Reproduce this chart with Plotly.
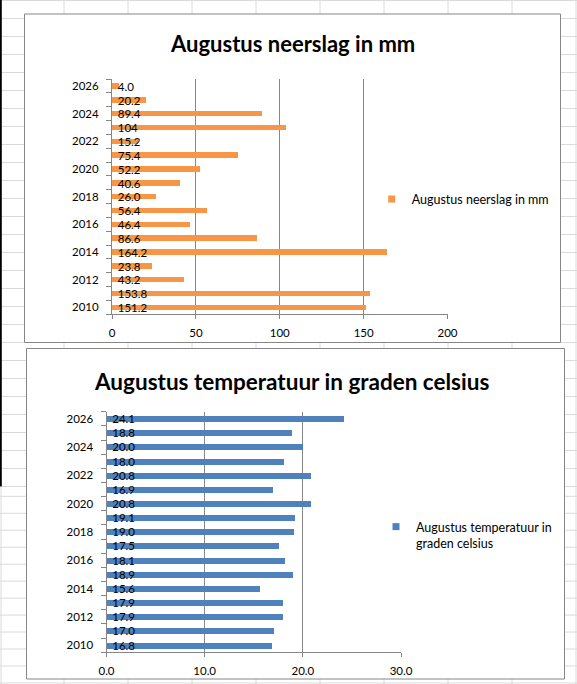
import plotly.graph_objects as go

W, H = 577, 684

# ---------------- data ----------------
years = list(range(2010, 2027))
rain_mm = [151.2, 153.8, 43.2, 23.8, 164.2, 86.6, 46.4, 56.4, 26.0,
           40.6, 52.2, 75.4, 15.2, 104, 89.4, 20.2, 4.0]
rain_labels = ["151.2", "153.8", "43.2", "23.8", "164.2", "86.6", "46.4", "56.4", "26.0",
               "40.6", "52.2", "75.4", "15.2", "104", "89.4", "20.2", "4.0"]
temp_c = [16.8, 17.0, 17.9, 17.9, 15.6, 18.9, 18.1, 17.5, 19.0,
          19.1, 20.8, 16.9, 20.8, 18.0, 20.0, 18.8, 24.1]
temp_labels = ["16.8", "17.0", "17.9", "17.9", "15.6", "18.9", "18.1", "17.5", "19.0",
               "19.1", "20.8", "16.9", "20.8", "18.0", "20.0", "18.8", "24.1"]
year_ticks = [2010, 2012, 2014, 2016, 2018, 2020, 2022, 2024, 2026]
rain_ticks = [0, 50, 100, 150, 200]
temp_ticks = [0, 10, 20, 30]

title_rain = "Augustus neerslag in mm"
title_temp = "Augustus temperatuur in graden celsius"
legend_rain = "Augustus neerslag in mm"
legend_temp = "Augustus temperatuur in<br>graden celsius"

# ---------------- styling ----------------
ORANGE = "#F79646"
BLUE = "#4F81BD"
AXIS = "#868686"
SHEET = "#DADADA"
FONT = "Lato"


def px(x):
    return x / W


def py(y):
    return 1 - y / H


fig = go.Figure()

# bars
fig.add_trace(go.Bar(
    orientation="h", x=rain_mm, y=years, width=0.4,
    marker=dict(color=ORANGE, line=dict(width=0)),
    text=rain_labels, texttemplate="\u2002%{text}",
    textposition="inside", insidetextanchor="start",
    constraintext="none", textangle=0, cliponaxis=False,
    insidetextfont=dict(family=FONT, size=11.5, color="#000000"),
    showlegend=False, hoverinfo="x+y", xaxis="x", yaxis="y",
))
fig.add_trace(go.Bar(
    orientation="h", x=temp_c, y=years, width=0.42,
    marker=dict(color=BLUE, line=dict(width=0)),
    text=temp_labels, texttemplate="\u2002%{text}",
    textposition="inside", insidetextanchor="start",
    constraintext="none", textangle=0, cliponaxis=False,
    insidetextfont=dict(family=FONT, size=11.5, color="#000000"),
    showlegend=False, hoverinfo="x+y", xaxis="x2", yaxis="y2",
))

# legend entries (small square keys like the spreadsheet legend)
fig.add_trace(go.Scatter(
    x=[None], y=[None], mode="markers", name=legend_rain,
    marker=dict(symbol="square", size=7, color=ORANGE),
    xaxis="x", yaxis="y", legend="legend",
))
fig.add_trace(go.Scatter(
    x=[None], y=[None], mode="markers", name=legend_temp,
    marker=dict(symbol="square", size=7, color=BLUE),
    xaxis="x2", yaxis="y2", legend="legend2",
))

# ---------------- spreadsheet background ----------------
shapes = []
for k in range(1, 10):
    shapes.append(dict(type="line", xref="paper", yref="paper", layer="below",
                       x0=px(64 * k), x1=px(64 * k), y0=0, y1=1,
                       line=dict(color=SHEET, width=1)))
for k in range(0, 28):
    shapes.append(dict(type="line", xref="paper", yref="paper", layer="below",
                       x0=0, x1=1, y0=py(18 * k + 0.5), y1=py(18 * k + 0.5),
                       line=dict(color=SHEET, width=1)))
for k in range(0, 12):
    yy = 496.3 + 16.97 * k
    shapes.append(dict(type="line", xref="paper", yref="paper", layer="below",
                       x0=0, x1=1, y0=py(yy), y1=py(yy),
                       line=dict(color=SHEET, width=1)))
shapes.append(dict(type="rect", xref="paper", yref="paper", layer="below",
                   x0=0, x1=px(1.8), y0=py(486.5), y1=1,
                   fillcolor="#000000", line=dict(width=0)))
shapes.append(dict(type="line", xref="paper", yref="paper", layer="below",
                   x0=px(1), x1=px(1), y0=0, y1=py(486.5),
                   line=dict(color=SHEET, width=1)))
# chart frames
shapes.append(dict(type="rect", xref="paper", yref="paper", layer="below",
                   x0=px(24.5), x1=px(560.5), y0=py(342.5), y1=py(14),
                   fillcolor="#FFFFFF", line=dict(color=AXIS, width=1)))
shapes.append(dict(type="rect", xref="paper", yref="paper", layer="below",
                   x0=px(26.5), x1=px(564.5), y0=py(679), y1=py(348.5),
                   fillcolor="#FFFFFF", line=dict(color=AXIS, width=1)))

tickfont = dict(family=FONT, size=11.5, color="#000000")

xcommon = dict(showgrid=True, gridcolor=AXIS, gridwidth=1, zeroline=False,
               showline=True, linecolor=AXIS, linewidth=1,
               ticks="outside", ticklen=4, tickcolor=AXIS, tickwidth=1,
               ticklabelstandoff=4,
               tickfont=tickfont, fixedrange=True)


def ycommon(ticks):
    return dict(tickmode="array", tickvals=ticks, ticktext=[str(t) for t in ticks],
                range=[years[0] - 0.5, years[-1] + 0.5],
                showgrid=False, zeroline=False,
                showline=True, linecolor=AXIS, linewidth=1,
                ticks="outside", ticklen=4, tickcolor="rgba(0,0,0,0)",
                ticklabelstandoff=6,
                minor=dict(tickmode="array",
                           tickvals=[y - 0.5 for y in years] + [years[-1] + 0.5],
                           ticks="outside", ticklen=5, tickcolor=AXIS, tickwidth=1),
                tickfont=tickfont, fixedrange=True)


fig.update_layout(
    margin=dict(l=0, r=0, t=0, b=0, autoexpand=False),
    paper_bgcolor="#FFFFFF", plot_bgcolor="rgba(0,0,0,0)",
    bargap=0, barmode="overlay",
    font=dict(family=FONT, color="#000000"),
    shapes=shapes,
    xaxis=dict(domain=[px(112), px(447.5)], range=[rain_ticks[0], rain_ticks[-1]],
               tickmode="array", tickvals=rain_ticks, anchor="y", **xcommon),
    yaxis=dict(domain=[py(314.3), py(79)], anchor="x", **ycommon(year_ticks)),
    xaxis2=dict(domain=[px(106.5), px(401)], range=[temp_ticks[0], temp_ticks[-1]],
                tickmode="array", tickvals=temp_ticks, tickformat=".1f", anchor="y2",
                **xcommon),
    yaxis2=dict(domain=[py(652.3), py(411.7)], anchor="x2", **ycommon(year_ticks)),
    legend=dict(x=px(371.7), y=py(199.3), xanchor="left", yanchor="middle",
                bgcolor="rgba(0,0,0,0)", borderwidth=0,
                font=dict(family=FONT, size=12.5, color="#000000")),
    legend2=dict(x=px(376), y=py(512), xanchor="left", yanchor="top", valign="top",
                 bgcolor="rgba(0,0,0,0)", borderwidth=0,
                 font=dict(family=FONT, size=12.5, color="#000000")),
    annotations=[
        dict(text=title_rain, xref="paper", yref="paper", x=px(292.5), y=py(43),
             xanchor="center", yanchor="middle", showarrow=False,
             font=dict(family=FONT, size=22, weight=700, color="#000000")),
        dict(text=title_temp, xref="paper", yref="paper", x=px(291), y=py(381.5),
             xanchor="center", yanchor="middle", showarrow=False,
             font=dict(family=FONT, size=22.5, weight=700, color="#000000")),
    ],
    showlegend=True,
)

fig.write_html(
    "out.html",
    config={"displayModeBar": False},
    default_width=f"{W}px; position:absolute; left:0px; top:0px",
    default_height=f"{H}px",
    post_script="document.body.style.margin='0px';document.body.style.overflow='hidden';",
)
